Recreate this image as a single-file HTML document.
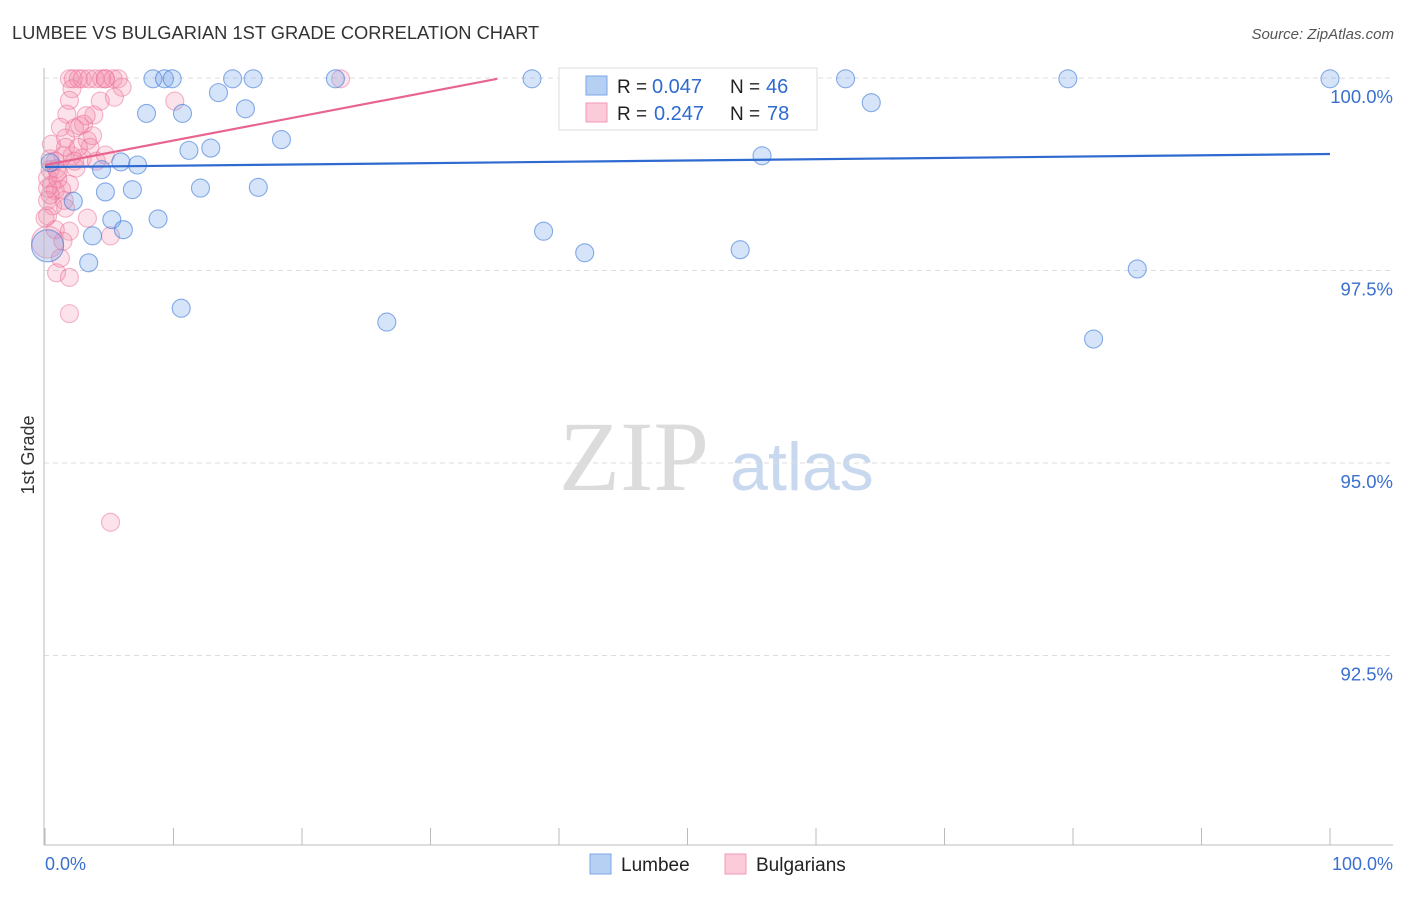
<!DOCTYPE html>
<html><head><meta charset="utf-8"><style>
body{margin:0;background:#fff;font-family:"Liberation Sans",sans-serif}
svg text{font-family:"Liberation Sans",sans-serif}
</style></head><body>
<svg id="c" width="1406" height="892">
<text x="12" y="39" font-size="18.3" fill="#333">LUMBEE VS BULGARIAN 1ST GRADE CORRELATION CHART</text>
<text x="1394" y="39" font-size="15" fill="#555" font-style="italic" text-anchor="end">Source: ZipAtlas.com</text>
<text x="0" y="0" transform="translate(34,455) rotate(-90)" font-size="18" fill="#333" text-anchor="middle">1st Grade</text>
<text x="634" y="490" font-size="100" fill="#dcdcdc" style="font-family:'Liberation Serif',serif" text-anchor="middle">ZIP</text>
<text x="802" y="490" font-size="68" fill="#c8d8ef" text-anchor="middle">atlas</text>
<g id="grid"></g><g id="pts"></g><g id="lines"></g>
<line x1="44" y1="68" x2="44" y2="845" stroke="#bbb"/>
<line x1="44" y1="845" x2="1393" y2="845" stroke="#bbb"/>
<text x="45" y="870" font-size="18" fill="#3a6fd0">0.0%</text>
<text x="1393" y="870" font-size="18" fill="#3a6fd0" text-anchor="end">100.0%</text>
<g>
<rect x="559" y="68" width="258" height="62" fill="#fff" stroke="#ddd"/>
<rect x="586" y="76" width="21" height="19" fill="#b6d0f4" stroke="#7ea6e6"/>
<rect x="586" y="103" width="21" height="19" fill="#fccbd9" stroke="#f09ab6"/>
<text x="617" y="93" font-size="19" fill="#222">R =</text>
<text x="652" y="93" font-size="20" fill="#2f6ad0">0.047</text>
<text x="730" y="93" font-size="19" fill="#222">N =</text>
<text x="766" y="93" font-size="20" fill="#2f6ad0">46</text>
<text x="617" y="120" font-size="19" fill="#222">R =</text>
<text x="654" y="120" font-size="20" fill="#2f6ad0">0.247</text>
<text x="730" y="120" font-size="19" fill="#222">N =</text>
<text x="767" y="120" font-size="20" fill="#2f6ad0">78</text>
</g>
<g>
<rect x="590" y="854" width="21" height="20" fill="#b6d0f4" stroke="#7ea6e6"/>
<text x="621" y="871" font-size="19" fill="#222">Lumbee</text>
<rect x="725" y="854" width="21" height="20" fill="#fccbd9" stroke="#f09ab6"/>
<text x="756" y="871" font-size="19" fill="#222">Bulgarians</text>
</g>
</svg>
<script>
const yTicks=[100,97.5,95,92.5];
const yTickLabels=["100.0%","97.5%","95.0%","92.5%"];
const xTicks=[0,10,20,30,40,50,60,70,80,90,100];
const lumbeeX=[8.4,9.3,9.9,14.6,16.2,22.6,37.9,62.3,79.6,100,13.5,7.9,10.7,15.6,64.3,18.4,12.9,11.2,5.9,7.2,4.4,55.8,2.2,4.7,6.8,12.1,16.6,5.2,8.8,3.7,6.1,38.8,42.0,54.1,85.0,3.4,10.6,26.6,81.6,0.2,0.4];
const lumbeeY=[99.99,99.99,99.99,99.99,99.99,99.99,99.99,99.99,99.99,99.99,99.81,99.54,99.54,99.6,99.68,99.2,99.09,99.06,98.91,98.87,98.81,98.99,98.4,98.52,98.55,98.57,98.58,98.16,98.17,97.95,98.03,98.01,97.73,97.77,97.52,97.6,97.01,96.83,96.61,97.82,98.9];
const bulgX=[1.9,2.2,2.6,2.9,3.4,4.4,4.7,5.3,5.7,23.0,57.5,2.1,6.0,5.4,1.9,10.1,1.7,3.8,3.0,2.3,1.6,3.3,3.5,1.4,2.1,0.4,0.8,2.9,4.7,4.0,2.4,0.4,1.0,0.2,0.5,1.9,0.8,0.2,1.5,0.6,0.2,3.3,0.8,1.9,5.1,0.2,1.4,0.9,1.9,1.9,5.1,1.2,2.7,3.2,1.3,0.4,0.9,1.6,2.6,1.2,4.3,4.7,3.9,0.2,0.5,2.3,1.0,0,1.6,3.7];
const bulgY=[99.99,99.99,99.99,99.99,99.99,99.99,99.99,99.99,99.99,99.99,99.99,99.86,99.88,99.75,99.71,99.7,99.53,99.52,99.4,99.35,99.22,99.19,99.1,98.99,98.99,98.95,98.92,98.96,99.0,98.92,98.83,98.81,98.78,98.7,98.61,98.62,98.54,98.41,98.41,98.34,98.21,98.18,98.03,98.01,97.95,97.87,97.88,97.47,97.41,96.94,94.23,97.66,99.38,99.51,98.55,98.48,98.82,99.1,99.1,99.36,99.7,99.99,99.99,98.57,99.14,98.92,98.69,98.18,98.31,99.25];
const lineIntercepts=[98.844,98.87];
const lineSlopes=[0.00169,0.0318];
const lineEnds=[100,35.2];
const X=v=>45+v*12.85, Y=v=>78+(100-v)*77;
const NS="http://www.w3.org/2000/svg";
const g=document.getElementById('grid'),p=document.getElementById('pts'),L=document.getElementById('lines');
yTicks.forEach((t,i)=>{
 const l=document.createElementNS(NS,'line');
 l.setAttribute('x1',44);l.setAttribute('x2',1393);l.setAttribute('y1',Y(t));l.setAttribute('y2',Y(t));
 l.setAttribute('stroke','#ddd');l.setAttribute('stroke-dasharray','5,4');
 
 
 g.appendChild(l);
 const tx=document.createElementNS(NS,'text');
 tx.setAttribute('x',1393);tx.setAttribute('y',Y(t)+25);tx.setAttribute('text-anchor','end');
 tx.setAttribute('font-size','18.5');tx.setAttribute('fill','#3a6fd0');tx.textContent=yTickLabels[i];
 
 
 g.appendChild(tx);
});
xTicks.forEach(t=>{
 const l=document.createElementNS(NS,'line');
 l.setAttribute('x1',X(t));l.setAttribute('x2',X(t));l.setAttribute('y1',828);l.setAttribute('y2',845);
 l.setAttribute('stroke','#bbb');
 
 
 g.appendChild(l);
});
function dots(xs,ys,fill,stroke,name){
 xs.forEach((x,i)=>{
  const c=document.createElementNS(NS,'circle');
  c.setAttribute('cx',X(x));c.setAttribute('cy',Y(ys[i]));c.setAttribute('r',(x<0.3&&ys[i]<97.9)?16:9);
  c.setAttribute('fill',fill);c.setAttribute('stroke',stroke);c.setAttribute('stroke-width','1.1');
  
  
  p.appendChild(c);
 });
}
dots(bulgX,bulgY,'rgba(245,140,170,0.25)','rgba(235,110,150,0.5)','bulgarians-point');
dots(lumbeeX,lumbeeY,'rgba(120,165,235,0.3)','rgba(60,120,215,0.6)','lumbee-point');
const cols=['#2f6ad0','#e8658f'];
lineIntercepts.forEach((a,i)=>{
 const l=document.createElementNS(NS,'line');
 l.setAttribute('x1',X(0));l.setAttribute('y1',Y(a));
 l.setAttribute('x2',X(lineEnds[i]));l.setAttribute('y2',Y(a+lineSlopes[i]*lineEnds[i]));
 l.setAttribute('stroke',cols[i]);l.setAttribute('stroke-width','2.2');
 
 
 L.appendChild(l);
});
</script>
</body></html>
